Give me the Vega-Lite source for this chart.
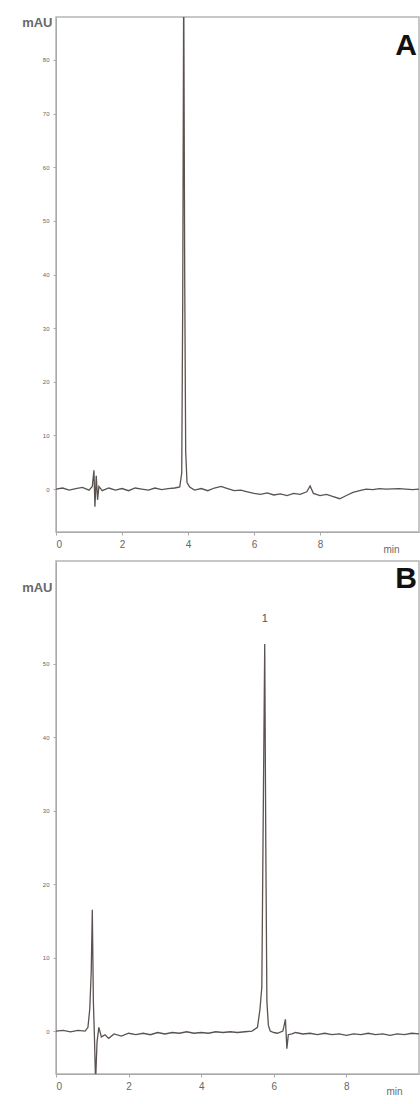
{
  "$schema": "https://vega.github.io/schema/vega-lite/v6.json",
  "padding": {"left": 20, "top": 15, "right": 0, "bottom": 0},
  "background": "white",
  "spacing": 5,
  "config": {
    "view": {"stroke": "#b5b5b5", "strokeWidth": 1.5},
    "axis": {
      "domainColor": "#aaaaaa", "tickColor": "#aaaaaa", "grid": false,
      "labelColor": "#666666", "labelFont": "Liberation Sans", "titleFont": "Liberation Sans",
      "titleColor": "#6a6a6a", "titleFontWeight": "bold", "titleFontSize": 13, "tickSize": 3
    },
    "title": {"font": "Liberation Sans"}
  },
  "datasets": {
    "a": [
      {"t":0,"v":0},{"t":0.2,"v":0.2},{"t":0.4,"v":-0.2},{"t":0.6,"v":0.1},{"t":0.8,"v":0.3},{"t":1.0,"v":-0.2},
      {"t":1.1,"v":0.5},{"t":1.15,"v":3.5},{"t":1.18,"v":-3.3},{"t":1.22,"v":2.5},{"t":1.26,"v":-2},{"t":1.3,"v":0.5},
      {"t":1.4,"v":-0.3},{"t":1.6,"v":0.2},{"t":1.8,"v":-0.2},{"t":2.0,"v":0.1},{"t":2.2,"v":-0.3},{"t":2.4,"v":0.2},
      {"t":2.6,"v":0},{"t":2.8,"v":-0.2},{"t":3.0,"v":0.2},{"t":3.2,"v":-0.1},{"t":3.4,"v":0.1},{"t":3.6,"v":0.2},
      {"t":3.75,"v":0.4},{"t":3.81,"v":3},{"t":3.84,"v":35},{"t":3.87,"v":95},{"t":3.9,"v":40},{"t":3.93,"v":7},
      {"t":3.97,"v":1.2},{"t":4.05,"v":0.4},{"t":4.2,"v":-0.2},{"t":4.4,"v":0.1},{"t":4.6,"v":-0.3},{"t":4.8,"v":0.2},
      {"t":5.0,"v":0.5},{"t":5.2,"v":0.1},{"t":5.4,"v":-0.3},{"t":5.6,"v":-0.2},{"t":5.8,"v":-0.5},{"t":6.0,"v":-0.8},
      {"t":6.2,"v":-1.0},{"t":6.4,"v":-0.7},{"t":6.6,"v":-1.1},{"t":6.8,"v":-0.9},{"t":7.0,"v":-1.2},{"t":7.2,"v":-0.8},
      {"t":7.4,"v":-1.0},{"t":7.6,"v":-0.5},{"t":7.7,"v":0.6},{"t":7.8,"v":-0.8},{"t":8.0,"v":-1.2},{"t":8.2,"v":-1.0},
      {"t":8.4,"v":-1.4},{"t":8.6,"v":-1.8},{"t":8.8,"v":-1.2},{"t":9.0,"v":-0.6},{"t":9.2,"v":-0.3},{"t":9.4,"v":0},
      {"t":9.6,"v":-0.1},{"t":9.8,"v":0.1},{"t":10.0,"v":0},{"t":10.4,"v":0.1},{"t":10.8,"v":-0.1},{"t":11.0,"v":0}
    ],
    "b": [
      {"t":0,"v":0},{"t":0.2,"v":0.1},{"t":0.4,"v":-0.1},{"t":0.6,"v":0.1},{"t":0.8,"v":0},{"t":0.88,"v":0.5},
      {"t":0.93,"v":3},{"t":0.97,"v":8},{"t":1.0,"v":16.5},{"t":1.03,"v":4},{"t":1.06,"v":-1},{"t":1.09,"v":-7},
      {"t":1.13,"v":-1.5},{"t":1.18,"v":0.5},{"t":1.25,"v":-0.8},{"t":1.35,"v":-0.5},{"t":1.45,"v":-1},{"t":1.6,"v":-0.4},
      {"t":1.8,"v":-0.7},{"t":2.0,"v":-0.3},{"t":2.2,"v":-0.5},{"t":2.4,"v":-0.3},{"t":2.6,"v":-0.5},{"t":2.8,"v":-0.2},
      {"t":3.0,"v":-0.4},{"t":3.2,"v":-0.2},{"t":3.4,"v":-0.3},{"t":3.6,"v":-0.1},{"t":3.8,"v":-0.3},{"t":4.0,"v":-0.2},
      {"t":4.2,"v":-0.3},{"t":4.4,"v":-0.1},{"t":4.6,"v":-0.2},{"t":4.8,"v":-0.1},{"t":5.0,"v":-0.2},{"t":5.2,"v":-0.1},
      {"t":5.4,"v":0},{"t":5.55,"v":0.5},{"t":5.62,"v":3},{"t":5.67,"v":6},{"t":5.71,"v":30},{"t":5.75,"v":52.7},
      {"t":5.78,"v":25},{"t":5.81,"v":4},{"t":5.85,"v":0.8},{"t":5.9,"v":0},{"t":6.0,"v":-0.2},{"t":6.1,"v":-0.3},
      {"t":6.25,"v":0},{"t":6.32,"v":1.6},{"t":6.36,"v":-2.4},{"t":6.4,"v":-0.5},{"t":6.5,"v":-0.4},{"t":6.6,"v":-0.2},
      {"t":6.8,"v":-0.4},{"t":7.0,"v":-0.3},{"t":7.2,"v":-0.5},{"t":7.4,"v":-0.3},{"t":7.6,"v":-0.5},{"t":7.8,"v":-0.4},
      {"t":8.0,"v":-0.6},{"t":8.2,"v":-0.4},{"t":8.4,"v":-0.5},{"t":8.6,"v":-0.3},{"t":8.8,"v":-0.5},{"t":9.0,"v":-0.4},
      {"t":9.2,"v":-0.6},{"t":9.4,"v":-0.4},{"t":9.6,"v":-0.5},{"t":9.8,"v":-0.3},{"t":10.0,"v":-0.4}
    ],
    "bpeak": [{"t":5.75,"v":52.7,"label":"1"}]
  },
  "vconcat": [
    {
      "width": 363, "height": 515,
      "title": {"text": "A", "anchor": "end", "frame": "group", "fontSize": 30, "fontWeight": "bold", "color": "#111111", "offset": -45, "dx": -2},
      "data": {"name": "a"},
      "mark": {"type": "line", "color": "#5b5350", "strokeWidth": 1.3, "clip": true, "interpolate": "linear"},
      "encoding": {
        "x": {"field": "t", "type": "quantitative", "scale": {"domain": [0, 11], "nice": false, "zero": false},
          "axis": {"values": [0, 2, 4, 6, 8], "labelFontSize": 10, "labelPadding": 4, "title": "min", "titleFontWeight": "normal", "titleFontSize": 10, "titleX": 335, "titleY": 20, "titleAlign": "center", "titleBaseline": "alphabetic"}},
        "y": {"field": "v", "type": "quantitative", "scale": {"domain": [-8, 88], "nice": false, "zero": false},
          "axis": {"values": [0, 10, 20, 30, 40, 50, 60, 70, 80], "labelFontSize": 6, "labelPadding": 4, "title": "mAU", "titleAngle": 0, "titleAlign": "right", "titleBaseline": "middle", "titleX": -4, "titleY": 5}}
      }
    },
    {
      "width": 363, "height": 513,
      "title": {"text": "B", "anchor": "end", "frame": "group", "fontSize": 30, "fontWeight": "bold", "color": "#111111", "offset": -33, "dx": -2},
      "layer": [
        {
          "data": {"name": "b"},
          "mark": {"type": "line", "color": "#5b5350", "strokeWidth": 1.3, "clip": true},
          "encoding": {
            "x": {"field": "t", "type": "quantitative", "scale": {"domain": [0, 10], "nice": false, "zero": false},
              "axis": {"values": [0, 2, 4, 6, 8], "labelFontSize": 10, "labelPadding": 4, "title": "min", "titleFontWeight": "normal", "titleFontSize": 10, "titleX": 338, "titleY": 20, "titleAlign": "center", "titleBaseline": "alphabetic"}},
            "y": {"field": "v", "type": "quantitative", "scale": {"domain": [-5.85, 64], "nice": false, "zero": false},
              "axis": {"values": [0, 10, 20, 30, 40, 50], "labelFontSize": 6, "labelPadding": 4, "title": "mAU", "titleAngle": 0, "titleAlign": "right", "titleBaseline": "middle", "titleX": -4, "titleY": 26}}
          }
        },
        {
          "data": {"name": "bpeak"},
          "mark": {"type": "text", "dy": -25, "fontSize": 11, "color": "#555555", "font": "Liberation Sans"},
          "encoding": {
            "x": {"field": "t", "type": "quantitative"},
            "y": {"field": "v", "type": "quantitative"},
            "text": {"field": "label"}
          }
        }
      ]
    }
  ]
}
